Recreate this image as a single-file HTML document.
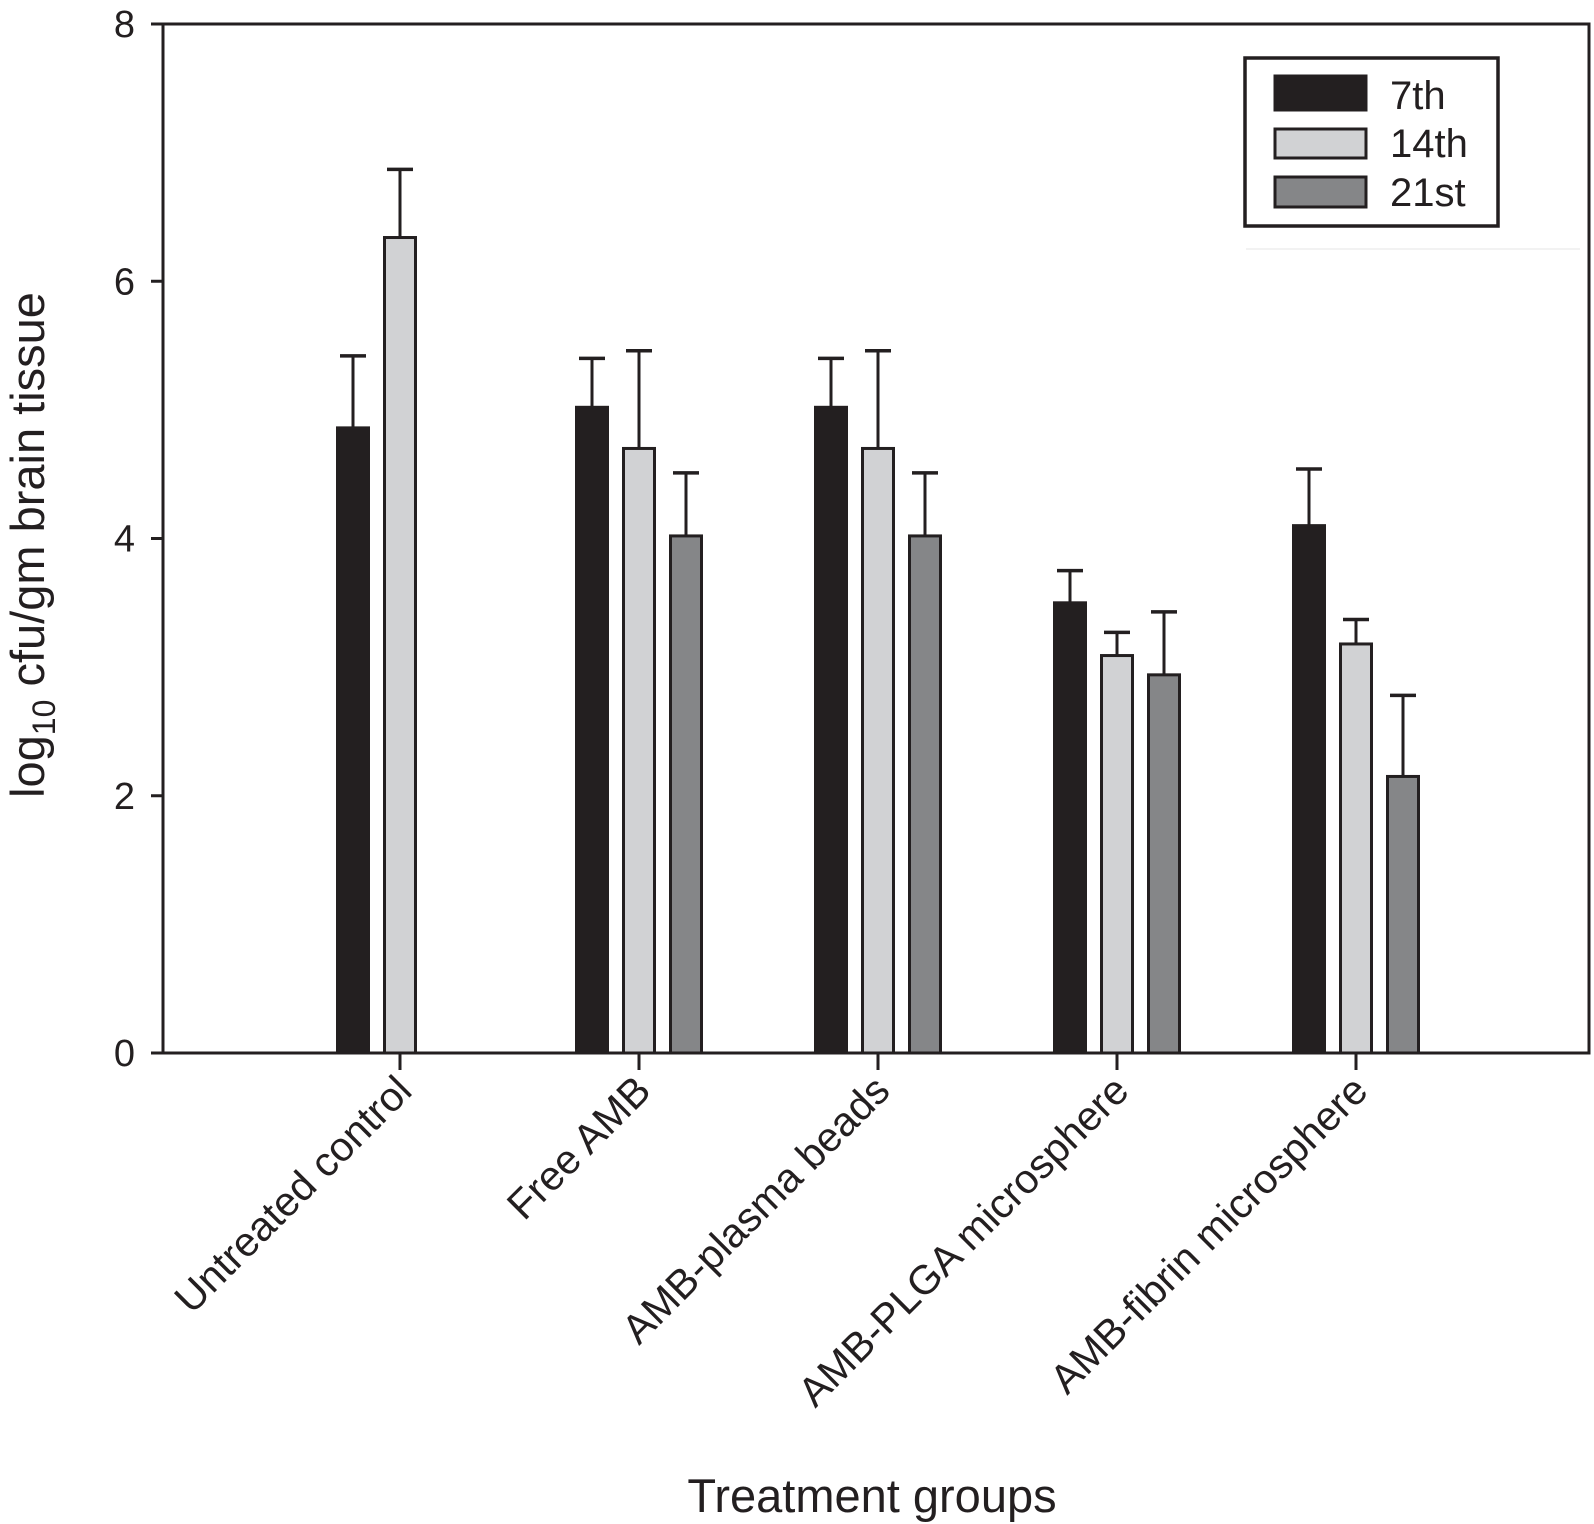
<!DOCTYPE html>
<html><head><meta charset="utf-8"><style>
html,body{margin:0;padding:0;background:#fff;}
svg{display:block;font-family:"Liberation Sans",Arial,sans-serif;}
</style></head><body>
<svg id="chart" width="1594" height="1524" viewBox="0 0 1594 1524"></svg>
<script>
const categories=["Untreated control","Free AMB","AMB-plasma beads","AMB-PLGA microsphere","AMB-fibrin microsphere"];
const seriesNames=["7th","14th","21st"];
const mean7=[4.86,5.02,5.02,3.50,4.10];
const sd7=[0.56,0.38,0.38,0.25,0.44];
const mean14=[6.34,4.70,4.70,3.09,3.18];
const sd14=[0.53,0.76,0.76,0.18,0.19];
const mean21=[null,4.02,4.02,2.94,2.15];
const sd21=[null,0.49,0.49,0.49,0.63];
const yTicks=[0,2,4,6,8];

const NS="http://www.w3.org/2000/svg";
const svg=document.getElementById('chart');
const L=163,R=1589,T=24,B=1053,yMax=8;
const yScale=v=>B-(v/yMax)*(B-T);
const groupX=i=>400+i*239;
function el(tag,attrs,parent){const e=document.createElementNS(NS,tag);for(const k in attrs)e.setAttribute(k,attrs[k]);(parent||svg).appendChild(e);return e;}

const fills=["#231f20","#d1d2d4","#858688"];
const series=[[mean7,sd7],[mean14,sd14],[mean21,sd21]];
const barW=31,pitch=47;
series.forEach((s,si)=>{
  s[0].forEach((v,i)=>{
    if(v===null)return;
    const cx=groupX(i)+(si-1)*pitch;
    const y=yScale(v), yt=yScale(v+s[1][i]);
    const ln=el('line',{x1:cx,x2:cx,y1:y,y2:yt,stroke:'#231f20','stroke-width':3});
    
    
    const cap=el('line',{x1:cx-13,x2:cx+13,y1:yt,y2:yt,stroke:'#231f20','stroke-width':3.5});
    
    
    const r=el('rect',{x:cx-barW/2,y:y,width:barW,height:B-y,fill:fills[si],stroke:'#231f20','stroke-width':3});
    
    
  });
});

const ax=el('path',{d:`M${L},${B} L${L},${T} M${L-12},${T} L${R},${T} L${R},${B} L${L-12},${B}`,fill:'none',stroke:'#231f20','stroke-width':3});



yTicks.forEach(t=>{
  const y=yScale(t);
  const tk=el('line',{x1:L-12,x2:L,y1:y,y2:y,stroke:'#231f20','stroke-width':3});
  
  
  const tx=el('text',{x:L-28,y:y+13,'text-anchor':'end','font-size':38,fill:'#231f20'});
  tx.textContent=t;
  
  
});
categories.forEach((c,i)=>{
  const x=groupX(i);
  const tk=el('line',{x1:x,x2:x,y1:B,y2:B+17,stroke:'#231f20','stroke-width':3});
  
  
  const tx=el('text',{x:x+14,y:B+40,'text-anchor':'end','font-size':41,fill:'#231f20',transform:`rotate(-45 ${x+14} ${B+40})`});
  tx.textContent=c;
  
  
});

const yt=el('text',{x:0,y:0,'text-anchor':'middle','font-size':47,fill:'#231f20',transform:'translate(44 545) rotate(-90)'});
yt.innerHTML='log<tspan font-size="32" dy="11">10</tspan><tspan dy="-11"> cfu/gm brain tissue</tspan>';


const xt=el('text',{x:872,y:1512,'text-anchor':'middle','font-size':47,fill:'#231f20'});
xt.textContent='Treatment groups';



const lg=el('g',{});


el('rect',{x:1245,y:58,width:253,height:168,fill:'#fff',stroke:'#231f20','stroke-width':3.5},lg);
const sw=[[76,110],[129,158],[177,207]];
seriesNames.forEach((n,i)=>{
  const r=el('rect',{x:1275,y:sw[i][0],width:91,height:sw[i][1]-sw[i][0],fill:fills[i],stroke:'#231f20','stroke-width':3},lg);
  
  
  const t=el('text',{x:1390,y:sw[i][1]-1,'font-size':40,fill:'#231f20'},lg);
  t.textContent=n;
  
  
});
const fl=el('line',{x1:1246,x2:1580,y1:249,y2:249,stroke:'#eeeeee','stroke-width':1.5});


</script>
</body></html>
